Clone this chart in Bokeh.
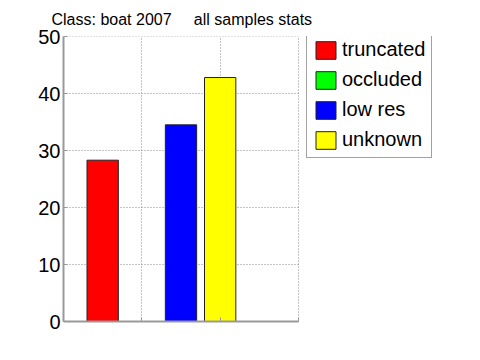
from bokeh.plotting import figure
from bokeh.models import Range1d, FixedTicker, Legend, LegendItem, Title
from bokeh.embed import file_html
from bokeh.resources import INLINE

categories = ["truncated", "occluded", "low res", "unknown"]
values = [28.3, 0.0, 34.5, 42.8]
positions = [0.5, 1.0, 1.5, 2.0]
colors = ["#ff0000", "#00ff00", "#0000ff", "#ffff00"]
y_ticks = [0, 10, 20, 30, 40, 50]
x_grid = [1, 2, 3]
x_axis_limits = (0, 3)
title_text = "Class: boat 2007     all samples stats"

# axes area spans 0..3; extra room on the right holds the legend
x_end = 3 * 401 / 235

p = figure(width=464, height=344, output_backend="svg", toolbar_location=None,
           x_range=Range1d(0, x_end), y_range=Range1d(0, 50),
           min_border_left=63, min_border_right=0, min_border_top=36, min_border_bottom=23)
p.title = Title(text=title_text.replace(" ", "\u00a0"), align="left", offset=-12,
                vertical_align="top", text_font="Liberation Sans",
                text_font_size="16px", text_font_style="normal", text_color="black", standoff=14)
p.outline_line_color = None
p.background_fill_color = "white"
p.border_fill_color = "white"

# horizontal dotted grid, limited to the axes box
n = len(y_ticks)
p.segment(x0=[x_axis_limits[0]] * n, x1=[x_axis_limits[1]] * n, y0=y_ticks, y1=y_ticks,
          line_color="#888888", line_dash="1 2", line_width=1)

items = []
for i, c in enumerate(categories):
    r = p.vbar(x=[positions[i]], top=[values[i]], width=0.4, bottom=0,
               fill_color=colors[i], line_color="#222222", line_width=1)
    items.append(LegendItem(label=c, renderers=[r]))

for ax in p.yaxis:
    ax.ticker = FixedTicker(ticks=y_ticks)
    ax.major_label_text_font = "Liberation Sans"
    ax.major_label_text_font_size = "20px"
    ax.major_label_text_color = "black"
    ax.major_tick_in = 4
    ax.major_tick_out = 0
    ax.minor_tick_line_color = None
    ax.major_tick_line_color = "#999999"
    ax.axis_line_color = "#999999"
    ax.axis_line_width = 2
    ax.major_label_standoff = 3

for ax in p.xaxis:
    ax.ticker = FixedTicker(ticks=x_grid)
    ax.bounds = x_axis_limits
    ax.major_label_overrides = {1: "", 2: "", 3: ""}
    ax.major_tick_in = 4
    ax.major_tick_out = 0
    ax.minor_tick_line_color = None
    ax.major_tick_line_color = "#999999"
    ax.axis_line_color = "#999999"
    ax.axis_line_width = 2

p.ygrid.grid_line_color = None
p.xgrid.ticker = FixedTicker(ticks=x_grid)
p.xgrid.grid_line_color = "#888888"
p.xgrid.grid_line_dash = "1 2"
p.xgrid.grid_line_width = 1

legend = Legend(items=items, location=(243, 163), orientation="vertical",
                label_text_font="Liberation Sans", label_text_font_size="20px",
                label_text_color="black", glyph_width=25, glyph_height=22,
                label_height=22, spacing=7, padding=6, margin=0, label_standoff=4,
                border_line_color="#444444", border_line_width=1,
                background_fill_color="white", background_fill_alpha=1.0)
p.add_layout(legend, "center")

open("out.html", "w").write(file_html(p, INLINE))
